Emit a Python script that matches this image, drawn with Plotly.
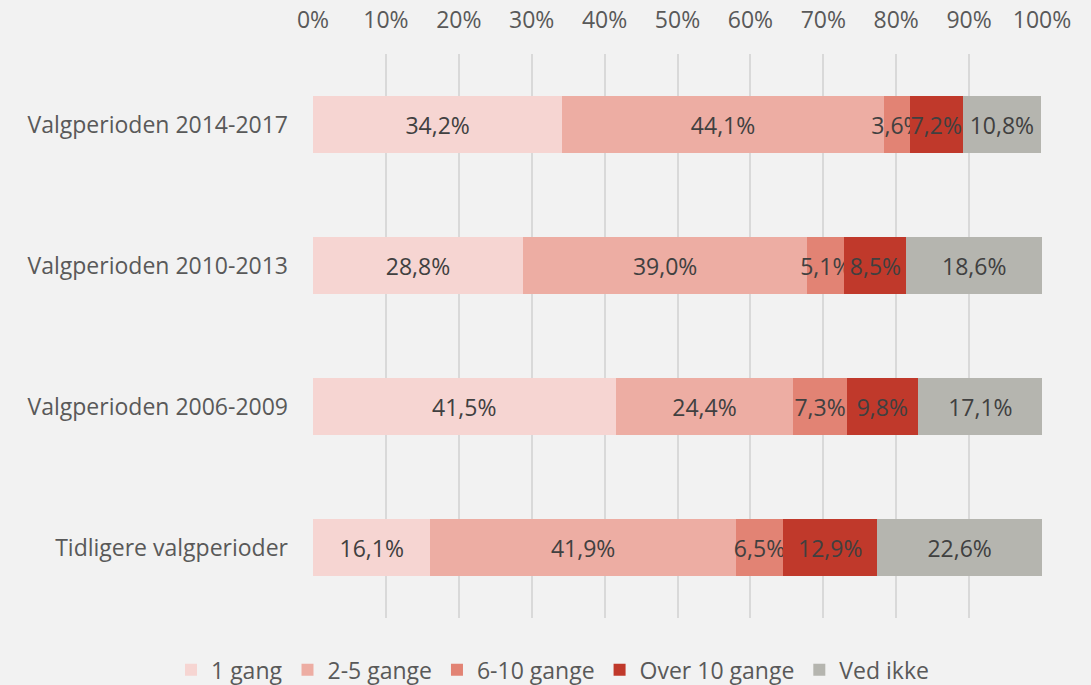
import plotly.graph_objects as go

categories = [
    "Valgperioden 2014-2017",
    "Valgperioden 2010-2013",
    "Valgperioden 2006-2009",
    "Tidligere valgperioder",
]
series_names = ["1 gang", "2-5 gange", "6-10 gange", "Over 10 gange", "Ved ikke"]
once = [34.2, 28.8, 41.5, 16.1]
two_five = [44.1, 39.0, 24.4, 41.9]
six_ten = [3.6, 5.1, 7.3, 6.5]
over_ten = [7.2, 8.5, 9.8, 12.9]
dont_know = [10.8, 18.6, 17.1, 22.6]
tick_values = list(range(0, 101, 10))
tick_labels = [f"{v}%" for v in tick_values]

colors = ["#F6D5D2", "#EDADA3", "#E28374", "#C0392B", "#B5B5AF"]
text_color = "#404040"
axis_color = "#595959"
font_family = "'Open Sans', sans-serif"
font_size = 23

fig = go.Figure()
for name, values, color in zip(
    series_names, [once, two_five, six_ten, over_ten, dont_know], colors
):
    fig.add_trace(
        go.Bar(
            y=categories,
            x=values,
            name=name,
            orientation="h",
            marker=dict(color=color, line=dict(width=0)),
            texttemplate="%{x:.1f}%",
            textposition="inside",
            insidetextanchor="middle",
            textangle=0,
            textfont=dict(color=text_color, size=font_size, family=font_family),
            constraintext="none",
            hoverinfo="skip",
        )
    )

fig.update_layout(
    barmode="stack",
    bargap=0.6,
    separators=", ",
    width=1091,
    height=685,
    paper_bgcolor="#F2F2F2",
    plot_bgcolor="#F2F2F2",
    font=dict(family=font_family, size=font_size, color=axis_color),
    margin=dict(l=313, r=49, t=54, b=67, autoexpand=False),
    uniformtext=dict(minsize=font_size, mode="show"),
    xaxis=dict(
        side="top",
        range=[0, 100],
        tickvals=tick_values,
        ticktext=tick_labels,
        showgrid=True,
        gridcolor="#D9D9D9",
        gridwidth=2,
        zeroline=False,
        showline=False,
        ticklabelstandoff=20,
        automargin=False,
        tickfont=dict(size=font_size, color=axis_color),
    ),
    yaxis=dict(
        autorange="reversed",
        showgrid=False,
        showline=False,
        ticklabelstandoff=24,
        automargin=False,
        tickfont=dict(size=font_size, color=axis_color),
    ),
    # left of the plot area so the legend may use the full width on one row
    legend=dict(
        orientation="h",
        x=(171 - 313) / 729,
        xanchor="left",
        y=-0.092,
        yanchor="middle",
        font=dict(size=font_size, color=axis_color),
        itemwidth=30,
        traceorder="normal",
    ),
)

# remove the page's default body margin so the figure sits at the window's corner
fig.write_html(
    "out.html",
    config={"displayModeBar": False},
    post_script="document.body.style.margin='0';document.body.style.overflow='hidden';",
)
